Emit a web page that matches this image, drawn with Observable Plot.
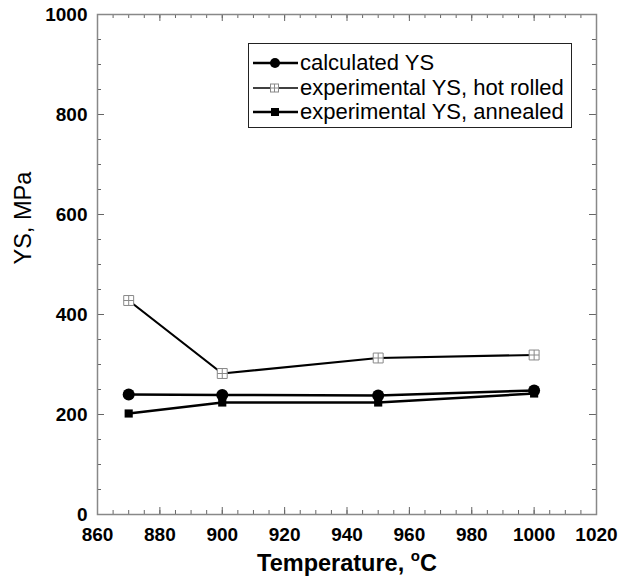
<!DOCTYPE html>
<html><head><meta charset="utf-8">
<script src="https://cdn.jsdelivr.net/npm/d3@7"></script>
<script src="https://cdn.jsdelivr.net/npm/@observablehq/plot@0.6"></script>
<style>
body{margin:0;background:#fff;}
#wrap{position:relative;width:634px;height:584px;font-family:"Liberation Sans",Arial,sans-serif;color:#000;}
#legend{position:absolute;left:248px;top:43px;width:322px;height:83px;border:1.5px solid #222;background:#fff;}
.row{position:absolute;left:2px;height:24px;display:flex;align-items:center;font-size:22px;white-space:nowrap;}
.row svg{margin-right:2px;}
#xtitle{position:absolute;left:0;width:694px;top:548px;text-align:center;font-weight:bold;font-size:23.5px;line-height:30px;}
#xtitle sup{font-size:15px;vertical-align:10px;line-height:0;}
</style></head><body>
<div id="wrap"></div>
<script>
// Data
const temps = [870, 900, 950, 1000];
const calcYS = [240, 239, 238, 248];
const hotRolledYS = [428, 282, 313, 319];
const annealedYS = [202, 224, 224, 242];
const seriesNames = ["calculated YS", "experimental YS, hot rolled", "experimental YS, annealed"];
const xTicks = [860, 880, 900, 920, 940, 960, 980, 1000, 1020];
const xMinor = [860,865,870,875,880,885,890,895,900,905,910,915,920,925,930,935,940,945,950,955,960,965,970,975,980,985,990,995,1000,1005,1010,1015,1020];
const yTicks = [0, 200, 400, 600, 800, 1000];
const yMinor = [0,50,100,150,200,250,300,350,400,450,500,550,600,650,700,750,800,850,900,950,1000];

const rows = (vals) => temps.map((t, i) => ({t, v: vals[i]}));
const calc = rows(calcYS), hot = rows(hotRolledYS), ann = rows(annealedYS);

const crossSquare = {
  draw(ctx, size) {
    const r = Math.sqrt(size) / 2;
    ctx.moveTo(-r, -r); ctx.lineTo(r, -r); ctx.lineTo(r, r); ctx.lineTo(-r, r); ctx.closePath();
    ctx.moveTo(0, -r); ctx.lineTo(0, r);
    ctx.moveTo(-r, 0); ctx.lineTo(r, 0);
  }
};

const W = 634, H = 584, mL = 97, mR = 38, mT = 14, mB = 70;
const fw = W - mL - mR, fh = H - mT - mB;
const tc = "#666";

const chart = Plot.plot({
  width: W, height: H,
  marginLeft: mL, marginRight: mR, marginTop: mT, marginBottom: mB,
  style: {fontFamily: "Liberation Sans, Arial, sans-serif", background: "#fff"},
  x: {domain: [860, 1020]},
  y: {domain: [0, 1000]},
  marks: [
    // ticks inward
    Plot.tickX(xMinor, {x: d => d, insetTop: fh - 4, stroke: tc}),
    Plot.tickX(xTicks, {x: d => d, insetTop: fh - 7, stroke: tc}),
    Plot.tickX(xMinor, {x: d => d, insetBottom: fh - 4, stroke: tc}),
    Plot.tickX(xTicks, {x: d => d, insetBottom: fh - 7, stroke: tc}),
    Plot.tickY(yMinor, {y: d => d, insetRight: fw - 4, stroke: tc}),
    Plot.tickY(yTicks, {y: d => d, insetRight: fw - 7, stroke: tc}),
    Plot.tickY(yMinor, {y: d => d, insetLeft: fw - 4, stroke: tc}),
    Plot.tickY(yTicks, {y: d => d, insetLeft: fw - 7, stroke: tc}),
    Plot.frame({stroke: "#888", strokeWidth: 1.5}),
    Plot.axisX({ticks: xTicks, tickSize: 0, tickPadding: 13, fontSize: 19, fontWeight: "bold", label: null, tickFormat: d => String(d)}),
    Plot.axisY({ticks: yTicks, tickSize: 0, tickPadding: 10, fontSize: 19, fontWeight: "bold", label: null, tickFormat: d => String(d)}),
    Plot.text(["YS, MPa"], {frameAnchor: "left", rotate: -90, dx: -74, fontSize: 23.5, fill: "#000"}),
    // series
    Plot.line(hot, {x: "t", y: "v", stroke: "#000", strokeWidth: 2.2}),
    Plot.line(calc, {x: "t", y: "v", stroke: "#000", strokeWidth: 2.5}),
    Plot.line(ann, {x: "t", y: "v", stroke: "#000", strokeWidth: 2.5}),
    Plot.dot(hot, {x: "t", y: "v", symbol: crossSquare, r: 5.6, fill: "#fff", stroke: "#888", strokeWidth: 1}),
    Plot.dot(ann, {x: "t", y: "v", symbol: "square", r: 4.6, fill: "#000", stroke: "none"}),
    Plot.dot(calc, {x: "t", y: "v", symbol: "circle", r: 6, fill: "#000", stroke: "none"})
  ]
});

const wrap = document.getElementById("wrap");
wrap.appendChild(chart);

// legend
const lg = document.createElement("div");
lg.id = "legend";
const markers = [
  `<circle cx="24" cy="12" r="5" fill="#000"/>`,
  `<rect x="19.5" y="8" width="8" height="8" fill="#fff" stroke="#888" stroke-width="1"/><path d="M23.5,8V16M19.5,12H27.5" stroke="#888" stroke-width="1"/>`,
  `<rect x="20" y="8" width="8" height="8" fill="#000"/>`
];
const widths = [2.5, 1.5, 2.5];
const tops = [7, 32, 56];
seriesNames.forEach((name, i) => {
  const r = document.createElement("div");
  r.className = "row";
  r.style.top = tops[i] + "px";
  r.innerHTML = `<svg width="47" height="24"><line x1="2" y1="12" x2="47" y2="12" stroke="#000" stroke-width="${widths[i]}"/>${markers[i]}</svg><span>${name}</span>`;
  lg.appendChild(r);
});
wrap.appendChild(lg);

const xt = document.createElement("div");
xt.id = "xtitle";
xt.innerHTML = "Temperature, <sup>o</sup>C";
wrap.appendChild(xt);
</script>
</body></html>
